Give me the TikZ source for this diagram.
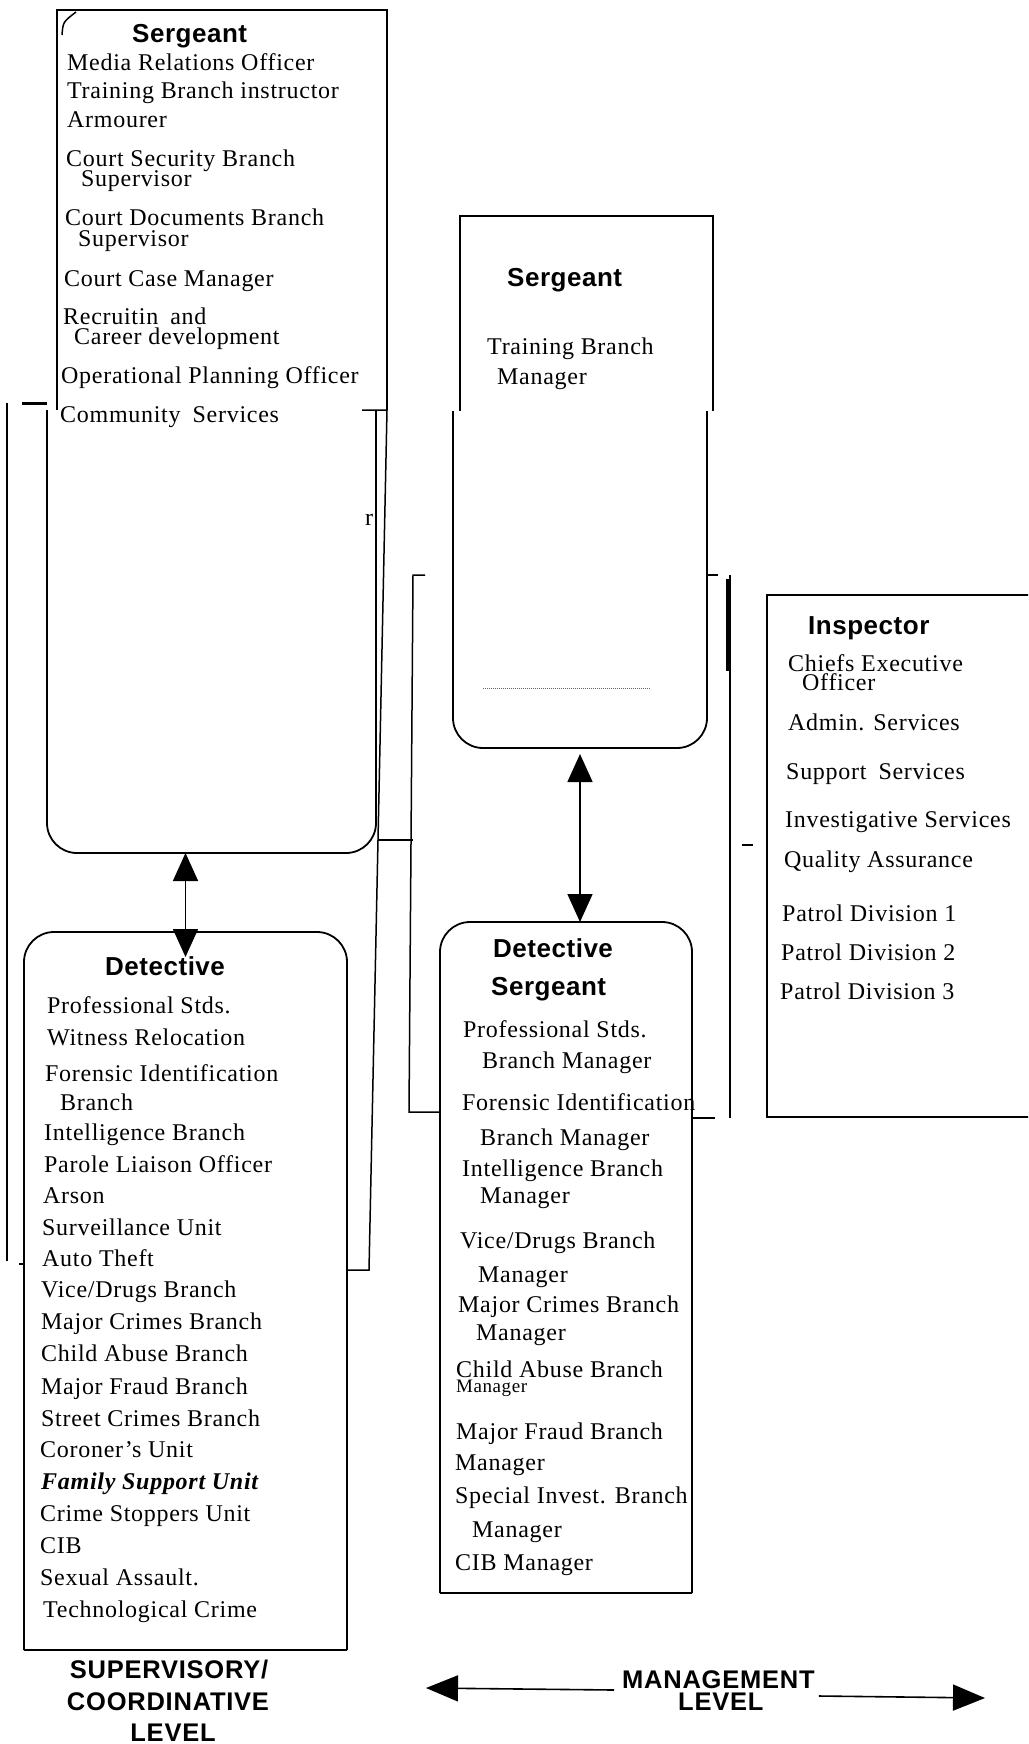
\documentclass[tikz,border=0pt]{standalone}
\usepackage{fontspec}
\setmainfont{Liberation Serif}[LetterSpace=3]
\newfontfamily\headfont{Liberation Sans}[LetterSpace=2]
\newfontfamily\tierfont{Liberation Sans}[LetterSpace=3]
\usetikzlibrary{arrows.meta,calc}
\tikzset{
  boxline/.style={draw=black, line width=1.8pt},
  linkline/.style={draw=black, line width=1.5pt},
  dblarrow/.style={{Triangle[length=28pt,width=25pt]}-{Triangle[length=28pt,width=25pt]}, line width=1.6pt},
  levelarrow/.style={-{Triangle[length=32pt,width=26pt]}, line width=1.6pt},
  boxarea/.style={inner sep=0pt, outer sep=0pt, anchor=north west},
  ranktitle/.style={font=\headfont\bfseries\fontsize{26}{30}\selectfont, inner sep=0pt, anchor=base west},
  dutyline/.style={font=\fontsize{24}{28}\selectfont, inner sep=0pt, anchor=base west},
  tierlabel/.style={font=\tierfont\bfseries\fontsize{25.5}{30}\selectfont, inner sep=0pt, anchor=base}
}
\begin{document}
\begin{tikzpicture}[x=1pt, y=-1pt]
  \useasboundingbox (0,0) rectangle (1028,1744);
  \clip (0,0) rectangle (1028,1744);

  % box areas
  \node[boxarea, minimum width=330pt, minimum height=400pt] (sgtTop) at (57,10) {};
  \node[boxarea, minimum width=329pt, minimum height=443pt] (sgtLow) at (47,410) {};
  \node[boxarea, minimum width=323pt, minimum height=718pt] (det) at (24,932) {};
  \node[boxarea, minimum width=253pt, minimum height=195pt] (mgrTop) at (460,216) {};
  \node[boxarea, minimum width=254pt, minimum height=337pt] (mgrLow) at (453,411) {};
  \node[boxarea, minimum width=252pt, minimum height=671pt] (detsgt) at (440,922) {};
  \node[boxarea, boxline, minimum width=270pt, minimum height=522pt] (insp) at (767,595) {};

  % outlines
  \draw[boxline] (sgtTop.south west) |- (sgtTop.north east) -- (sgtTop.south east);
  \draw[boxline, rounded corners=30pt] (sgtLow.north west) |- (sgtLow.south) -| (sgtLow.north east);
  \draw[boxline] (mgrTop.south west) |- (mgrTop.north east) -- (mgrTop.south east);
  \draw[boxline, rounded corners=30pt] (mgrLow.north west) |- (mgrLow.south) -| (mgrLow.north east);
  \draw[boxline, rounded corners=30pt] (det.south west) |- (det.north) -| (det.south east);
  \draw[boxline] (det.south west) -- (det.south east);
  \draw[boxline, rounded corners=30pt] (detsgt.south west) |- (detsgt.north) -| (detsgt.south east);
  \draw[boxline] (detsgt.south west) -- (detsgt.south east);
  \draw[linkline] (62,35) .. controls (63,22) .. (76,12);

  % links between boxes
  \coordinate (outerR) at (369,1270);
  \coordinate (midL) at ($(sgtTop.south east)!0.5!(outerR)$);
  \draw[linkline] ([xshift=-14pt]sgtLow.north east) -- (sgtTop.south east) -- (outerR) -- (det.east |- outerR);
  \coordinate (leftT) at (7,403);
  \coordinate (leftB) at (7,1261);
  \coordinate (leftTick) at (19,1264);
  \draw[linkline] (leftT) -- (leftB);
  \draw[line width=3pt] ([xshift=15pt]leftT) -- (sgtLow.west |- leftT);
  \draw[linkline] (leftTick) -- (leftTick -| det.west);
  \coordinate (mlTop) at (413,575);
  \coordinate (mlBot) at (409,1112);
  \draw[linkline] ([xshift=12pt]mlTop) -- (mlTop) -- (mlBot) -- (mlBot -| detsgt.west);
  \draw[linkline] (midL) -- (midL -| mlTop);
  \coordinate (mrTop) at (730,575);
  \coordinate (mrBot) at (730,1118);
  \draw[linkline] (mgrLow.east |- mrTop) -- ([xshift=-12pt]mrTop);
  \draw[line width=5pt] ([xshift=-2pt,yshift=-4pt]mrTop) -- ([xshift=-2pt,yshift=-96pt]mrTop);
  \draw[linkline] (mrTop) -- (mrBot);
  \draw[linkline] (mrBot -| detsgt.east) -- ([xshift=-15pt]mrBot);
  \coordinate (inspTick) at (742,845);
  \draw[linkline] (inspTick) -- ([xshift=-14pt]insp.west |- inspTick);
  \draw[densely dotted, line width=1pt, black!60] (483,688) -- (650,688);

  % arrows
  \draw[dblarrow] (det.north |- sgtLow.south) -- ([yshift=-25pt]det.north);
  \draw[dblarrow] ([yshift=-6pt]mgrLow.south) -- (mgrLow.south |- detsgt.north);

  % left sergeant
  \node[ranktitle] (sgtTitle) at (132,43) {Sergeant};
  \foreach \x/\y/\t [count=\i] in {67/71/Media Relations Officer, 67/99/Training Branch instructor,
      67/128/Armourer, 66/167/Court Security Branch, 81/187/Supervisor,
      65/226/Court Documents Branch, 78/247/Supervisor, 64/286/Court Case Manager,
      63/324/Recruitin\enspace and, 74/344/Career development,
      61/383/Operational Planning Officer, 60/422/Community\enspace Services}
    \node[dutyline] (sgtItem\i) at (\x,\y) {\t};
  \node[dutyline] (sgtMark) at (365,525) {r};

  % middle sergeant
  \node[ranktitle] (mgrTitle) at (507,286) {Sergeant};
  \node[dutyline] (mgrItemA) at (487,354) {Training Branch};
  \node[dutyline] (mgrItemB) at (497,384) {Manager};

  % inspector
  \node[ranktitle] (inspTitle) at (808,634) {Inspector};
  \foreach \x/\y/\t [count=\i] in {788/671/Chiefs Executive, 802/690/Officer,
      788/730/Admin. Services, 786/779/Support\enspace Services,
      785/827/Investigative Services, 784/867/Quality Assurance,
      782/921/Patrol Division 1, 781/960/Patrol Division 2, 780/999/Patrol Division 3}
    \node[dutyline] (inspItem\i) at (\x,\y) {\t};

  % detective
  \node[ranktitle] (detTitle) at (105,975) {Detective};
  \foreach \x/\y/\t [count=\i] in {47/1013/Professional Stds., 47/1045/Witness Relocation,
      45/1081/Forensic Identification, 60/1110/Branch, 44/1140/Intelligence Branch,
      44/1172/Parole Liaison Officer, 43/1203/Arson, 42/1235/Surveillance Unit,
      42/1266/Auto Theft, 41/1297/{Vice/Drugs Branch}, 41/1329/Major Crimes Branch,
      41/1361/Child Abuse Branch, 41/1394/Major Fraud Branch, 41/1426/Street Crimes Branch,
      40/1457/Coroner's Unit, 41/1489/\textbf{\textit{Family Support Unit}},
      40/1521/Crime Stoppers Unit, 40/1553/CIB, 40/1585/Sexual Assault.,
      43/1617/Technological Crime}
    \node[dutyline] (detItem\i) at (\x,\y) {\t};

  % detective sergeant
  \node[ranktitle] (dsgTitleA) at (493,957) {Detective};
  \node[ranktitle] (dsgTitleB) at (491,995) {Sergeant};
  \foreach \x/\y/\t [count=\i] in {463/1037/Professional Stds., 482/1068/Branch Manager,
      462/1110/Forensic Identification, 480/1145/Branch Manager,
      462/1176/Intelligence Branch, 480/1203/Manager, 460/1248/{Vice/Drugs Branch},
      478/1282/Manager, 458/1312/Major Crimes Branch, 476/1340/Manager,
      456/1377/Child Abuse Branch, 456/1439/Major Fraud Branch, 455/1470/Manager,
      455/1503/Special Invest. Branch, 472/1537/Manager, 455/1570/CIB Manager}
    \node[dutyline] (dsgItem\i) at (\x,\y) {\t};
  \node[dutyline, font=\fontsize{19}{22}\selectfont] (dsgSmall) at (456,1392) {Manager};

  % levels
  \node[tierlabel] (supA) at (169,1678) {SUPERVISORY/};
  \node[tierlabel] (supB) at (168,1710) {COORDINATIVE};
  \node[tierlabel] (supC) at (173,1741) {LEVEL};
  \node[tierlabel, anchor=base west] (mgmt) at (622,1688) {MANAGEMENT};
  \node[tierlabel, anchor=base west] (mgmtLvl) at (678,1710) {LEVEL};
  \coordinate (mgmtL) at (426,1688);
  \coordinate (mgmtR) at (985,1698);
  \draw[levelarrow] ([xshift=-8pt,yshift=-2pt]mgmt.base west) -- (mgmtL);
  \draw[levelarrow] ([xshift=4pt,yshift=-8pt]mgmt.base east) -- (mgmtR);
\end{tikzpicture}
\end{document}
